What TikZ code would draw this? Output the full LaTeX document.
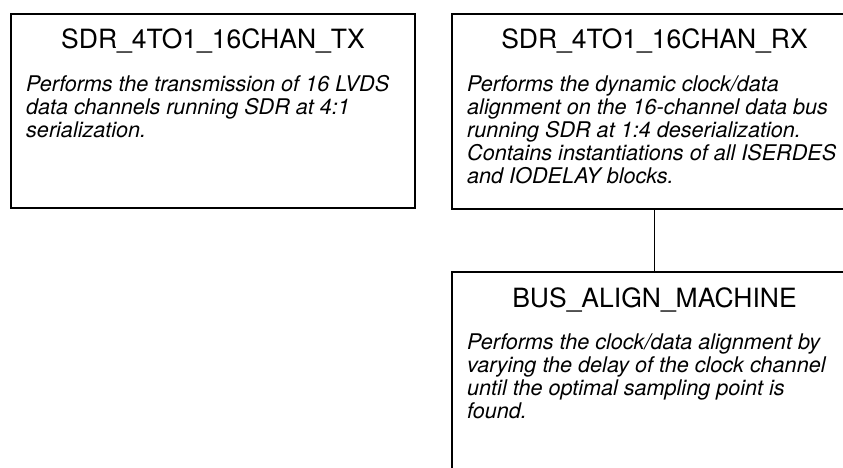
\documentclass[tikz,border=0pt]{standalone}
\usepackage{fontspec}
\setmainfont{TeX Gyre Heros}
\newcommand{\bodytext}[1]{\begin{minipage}[t]{385pt}\fontsize{21.6}{23}\selectfont\itshape\baselineskip=23pt\raggedright #1\end{minipage}}
\begin{document}
\begin{tikzpicture}[x=1pt,y=-1pt,
  block/.style={draw=black,line width=2pt,inner sep=0pt},
  title/.style={anchor=base,inner sep=0pt,font=\fontsize{26.5}{30}\selectfont},
  body/.style={anchor=base west,inner sep=0pt},
  link/.style={draw=black,line width=1pt}]
\useasboundingbox (0,0) rectangle (843,468);
\clip (0,0) rectangle (843,468);
% boxes
\node[block,minimum width=404pt,minimum height=194pt,anchor=north west] (tx) at (10,13) {};
\node[block,minimum width=405pt,minimum height=195pt,anchor=north west] (rx) at (451,13) {};
\node[block,minimum width=405pt,minimum height=250pt,anchor=north west] (bam) at (451,271) {};
\draw[link] (rx.south) -- (bam.north);
% texts
\node[title] (txt) at ([yshift=-36pt]tx.north) {SDR\_4TO1\_16CHAN\_TX};
\node[body] (txb) at ([xshift=16pt,yshift=-78.5pt]tx.north west) {\bodytext{Performs the transmission of 16 LVDS\\data channels running SDR at 4:1\\serialization.}};
\node[title] (rxt) at ([yshift=-36pt]rx.north) {SDR\_4TO1\_16CHAN\_RX};
\node[body] (rxb) at ([xshift=16pt,yshift=-78.5pt]rx.north west) {\bodytext{Performs the dynamic clock/data\\alignment on the 16-channel data bus\\running SDR at 1:4 deserialization.\\Contains instantiations of all ISERDES\\and IODELAY blocks.}};
\node[title] (bamt) at ([yshift=-36pt]bam.north) {BUS\_ALIGN\_MACHINE};
\node[body] (bamb) at ([xshift=16pt,yshift=-78.5pt]bam.north west) {\bodytext{Performs the clock/data alignment by\\varying the delay of the clock channel\\until the optimal sampling point is\\found.}};
\end{tikzpicture}
\end{document}
